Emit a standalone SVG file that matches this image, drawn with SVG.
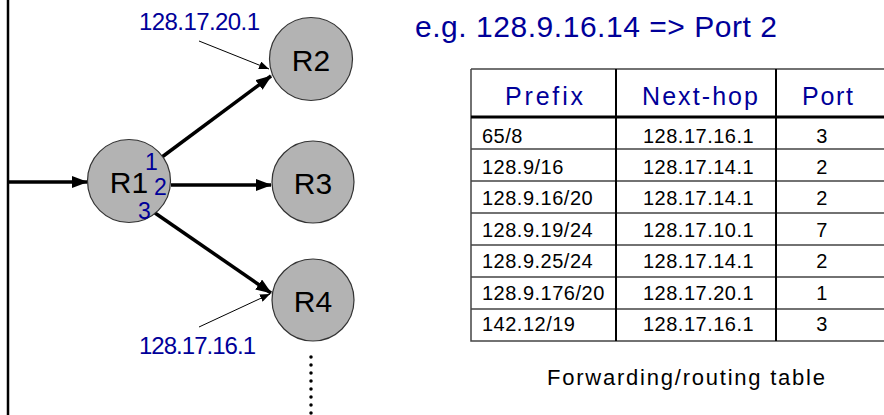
<svg xmlns="http://www.w3.org/2000/svg" width="884" height="415" viewBox="0 0 884 415">
  <style>
    text { font-family: "Liberation Sans", "DejaVu Sans", sans-serif; }
    .node circle { fill: #b3b3b3; stroke: #333; stroke-width: 1.2; }
    .rname { font-size: 30px; fill: #000; text-anchor: middle; }
    .blue { fill: #000099; }
    .port { font-size: 23px; fill: #000099; }
    .link { stroke: #000; stroke-width: 3.5; fill: none; marker-end: url(#head); }
    .ptr { stroke: #000; stroke-width: 1; fill: none; marker-end: url(#thin); }
    .hdr { font-size: 25px; fill: #000099; }
    .cell { font-size: 20px; fill: #000; letter-spacing: 0.5px; }
    .grid { stroke: #444; stroke-width: 1.5; fill: none; }
    .vcol { stroke: #000; stroke-width: 2; }
  </style>
  <defs>
    <marker id="head" markerUnits="userSpaceOnUse" markerWidth="16" markerHeight="12" refX="15" refY="6" orient="auto">
      <path d="M0,0 L16,6 L0,12 Z" fill="#000"/>
    </marker>
    <marker id="thin" markerUnits="userSpaceOnUse" markerWidth="10" markerHeight="8" refX="10" refY="4" orient="auto">
      <path d="M0,0 L10,4 L0,8 Z" fill="#000"/>
    </marker>
  </defs>

  <!-- incoming bus line -->
  <line x1="8" y1="0" x2="8" y2="415" stroke="#000" stroke-width="2.5"/>

  <!-- connectors -->
  <g id="connectors">
    <line class="link" x1="8" y1="182" x2="87" y2="182"/>
    <line class="link" x1="162" y1="157" x2="271" y2="76"/>
    <line class="link" x1="171" y1="185" x2="271" y2="185"/>
    <line class="link" x1="155" y1="213" x2="271" y2="293"/>
    <line class="ptr" x1="199" y1="41" x2="269" y2="69"/>
    <line class="ptr" x1="199" y1="327" x2="270" y2="294"/>
    <!-- continuation dots below R4 -->
    <line x1="311" y1="357" x2="311" y2="414" stroke="#000" stroke-width="3.5" stroke-linecap="round" stroke-dasharray="0 8"/>
  </g>

  <!-- next-hop address labels -->
  <text class="blue" x="139" y="30" font-size="24" textLength="121">128.17.20.1</text>
  <text class="blue" x="139" y="354" font-size="24" textLength="117">128.17.16.1</text>

  <g id="R1" class="node">
    <circle cx="129" cy="181" r="41.5"/>
    <text class="rname" x="129" y="193">R1</text>
    <text class="port" x="145" y="170">1</text>
    <text class="port" x="154" y="195">2</text>
    <text class="port" x="138" y="219">3</text>
  </g>
  <g id="R2" class="node">
    <circle cx="311" cy="59" r="41.5"/>
    <text class="rname" x="311" y="71">R2</text>
  </g>
  <g id="R3" class="node">
    <circle cx="313" cy="182" r="41"/>
    <text class="rname" x="313" y="194">R3</text>
  </g>
  <g id="R4" class="node">
    <circle cx="313" cy="300" r="41"/>
    <text class="rname" x="313" y="312">R4</text>
  </g>

  <!-- lookup example -->
  <text class="blue" x="415" y="37" font-size="30" textLength="362">e.g. 128.9.16.14 =&gt; Port 2</text>

  <!-- forwarding table -->
  <g id="table">
    <path class="grid" d="M471,69 H884 M471,69 V341 H884 M471,149 H884 M471,181 H884 M471,213 H884 M471,245 H884 M471,277 H884 M471,309 H884"/>
    <line x1="471" y1="117" x2="884" y2="117" stroke="#000" stroke-width="3"/>
    <line class="vcol" x1="616" y1="69" x2="616" y2="341"/>
    <line class="vcol" x1="776" y1="69" x2="776" y2="341"/>

    <text class="hdr" x="505" y="105" textLength="78">Prefix</text>
    <text class="hdr" x="642" y="105" textLength="116">Next-hop</text>
    <text class="hdr" x="802" y="105" textLength="51">Port</text>

    <g class="cell">
      <text x="482" y="143">65/8</text>
      <text x="482" y="174">128.9/16</text>
      <text x="482" y="205">128.9.16/20</text>
      <text x="482" y="237">128.9.19/24</text>
      <text x="482" y="268">128.9.25/24</text>
      <text x="482" y="300">128.9.176/20</text>
      <text x="482" y="331">142.12/19</text>
    </g>
    <g class="cell">
      <text x="643" y="143">128.17.16.1</text>
      <text x="643" y="174">128.17.14.1</text>
      <text x="643" y="205">128.17.14.1</text>
      <text x="643" y="237">128.17.10.1</text>
      <text x="643" y="268">128.17.14.1</text>
      <text x="643" y="300">128.17.20.1</text>
      <text x="643" y="331">128.17.16.1</text>
    </g>
    <g class="cell" text-anchor="middle">
      <text x="822" y="143">3</text>
      <text x="822" y="174">2</text>
      <text x="822" y="205">2</text>
      <text x="822" y="237">7</text>
      <text x="822" y="268">2</text>
      <text x="822" y="300">1</text>
      <text x="822" y="331">3</text>
    </g>
    <text x="547" y="385" font-size="22" fill="#000" textLength="278">Forwarding/routing table</text>
  </g>
</svg>
